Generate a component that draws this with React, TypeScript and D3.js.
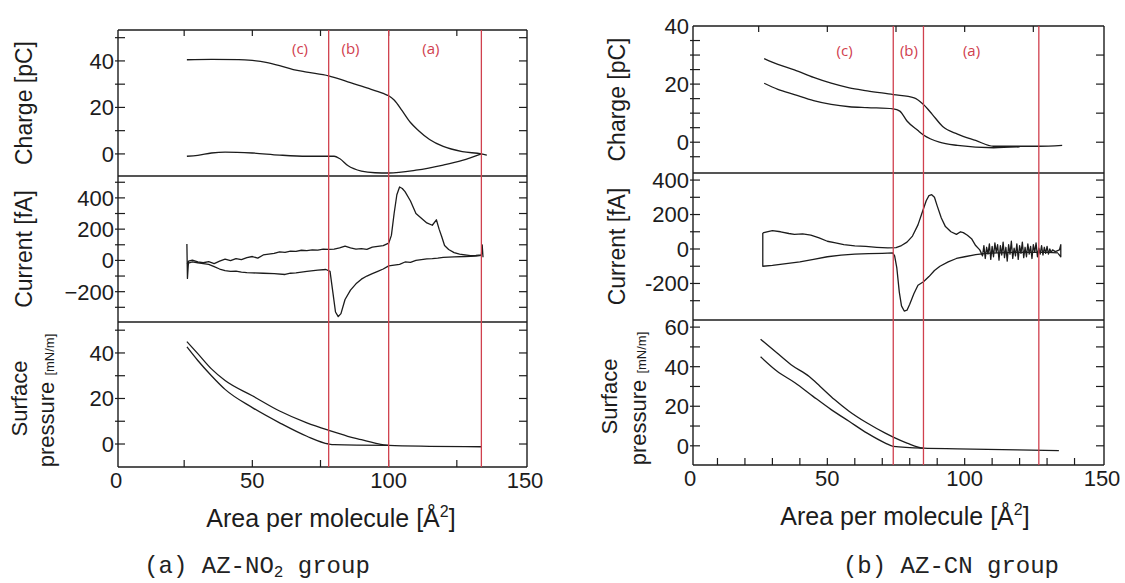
import React from "react";
import * as d3 from "d3";

type Pt = [number, number];

// shared labels
const xTickLabels = [0, 50, 100, 150];
const regionNames = ["(c)", "(b)", "(a)"];
const rowTitles = ["Charge [pC]", "Current [fA]"];

// ---------- (a) AZ-NO2 group ----------
const no2Boundaries = [78, 100, 134];
const no2NamePos = [67.5, 86, 115.5];
const no2ChargeTicks = [0, 20, 40];
const no2CurrentTicks = [-200, 0, 200, 400];
const no2PressureTicks = [0, 20, 40];

const no2ChargeUpper: Pt[] = [
  [26, 40.5], [35, 40.7], [45, 40.6], [50, 40.2], [55, 39.4], [60, 38], [65, 36.3],
  [70, 35.2], [78, 33.6], [85, 31], [92, 28.4], [98, 26], [100, 25], [102, 23.2],
  [105, 18.5], [108, 13.5], [111, 10], [115, 6.2], [120, 3.2], [127, 1], [134, 0], [136, -0.5],
];
const no2ChargeLower: Pt[] = [
  [26, -1], [30, -0.6], [35, 0.4], [40, 0.8], [50, 0.4], [60, -0.5], [70, -1], [80, -1],
  [82, -2], [85, -5], [90, -7.4], [95, -8.1], [100, -8.2], [110, -7], [120, -4.8],
  [127, -2.8], [134, 0],
];
const no2CurrentUpper: Pt[] = [
  [26, 105], [26.2, -115], [26.6, -5], [28, 2], [30, -10], [32, -15], [34, -8], [36, -20],
  [38, -5], [40, 8], [42, -2], [44, 12], [46, 5], [48, 18], [50, 25], [52, 15], [54, 35],
  [56, 40], [58, 45], [60, 55], [62, 52], [64, 60], [66, 58], [68, 65], [70, 62], [72, 68],
  [74, 66], [76, 72], [78, 70], [80, 72], [82, 80], [84, 92], [86, 80], [88, 72], [90, 75],
  [92, 70], [94, 85], [96, 90], [98, 95], [100, 110], [101, 160], [102, 300], [103, 420],
  [104, 470], [105, 460], [106, 440], [108, 380], [110, 300], [112, 270], [114, 240],
  [116, 225], [117.5, 260], [118.5, 200], [119.5, 150], [120.5, 95], [122, 70], [124, 50],
  [126, 40], [128, 35], [130, 30], [132, 32], [134, 35], [134.3, 100], [134.6, 20],
];
const no2CurrentLower: Pt[] = [
  [26, -20], [28, -10], [30, -15], [32, -20], [34, -25], [36, -40], [38, -55], [40, -65],
  [42, -70], [44, -68], [46, -75], [48, -78], [50, -80], [54, -82], [58, -85], [62, -90],
  [64, -82], [66, -80], [70, -70], [74, -62], [77, -58], [78.5, -70], [79.5, -200],
  [80.5, -330], [81.5, -360], [82.5, -340], [84, -250], [86, -190], [88, -150], [90, -120],
  [92, -100], [94, -85], [96, -70], [98, -55], [100, -35], [102, -30], [104, -25],
  [106, -10], [108, -12], [110, 0], [112, 5], [114, 10], [116, 12], [118, 15], [120, 20],
  [124, 22], [128, 25], [132, 28], [134, 32],
];
const no2PressureUpper: Pt[] = [
  [26, 45], [30, 39.7], [35, 33], [40, 27.9], [50, 21.2], [60, 14.5], [70, 9.3], [78, 6],
  [85, 3.4], [90, 1.9], [95, 0.4], [100, -0.6], [115, -1], [134, -1.2],
];
const no2PressureLower: Pt[] = [
  [26, 42.7], [30, 36.7], [35, 30], [40, 24], [50, 16], [60, 9.3], [70, 3.4], [78, 0],
  [80, -0.3], [100, -0.6],
];

// ---------- (b) AZ-CN group ----------
const cnBoundaries = [74, 85, 127];
const cnNamePos = [56.3, 79.7, 102.5];
const cnChargeTicks = [0, 20, 40];
const cnCurrentTicks = [-200, 0, 200, 400];
const cnPressureTicks = [0, 20, 40, 60];

const cnChargeUpper: Pt[] = [
  [27, 28.8], [32, 26.8], [38, 24.9], [45, 22.3], [51.4, 20.3], [58, 18.7], [64.5, 17.7],
  [74, 16.4], [81.6, 15.3], [85, 13], [88.2, 9.6], [92.1, 5.3], [97.4, 2.8], [104, 0.6],
  [110.5, -1.4], [127, -1.4], [135.5, -1.1],
];
const cnChargeLower: Pt[] = [
  [27, 20.3], [32, 18.2], [38, 16.4], [45, 14.3], [51.4, 13], [58, 12.2], [64.5, 11.9],
  [74, 11.5], [76.4, 10.7], [79, 7.3], [83, 4], [85, 2.5], [90.8, 0], [97.4, -1.1],
  [110.5, -1.9], [120, -1.6],
];
const cnCurrentUpper: Pt[] = [
  [26.5, 93], [28, 100], [30, 107], [33, 100], [36, 90], [38, 85], [41, 88], [44, 80],
  [47, 65], [50, 45], [53, 35], [56, 25], [60, 18], [64, 15], [68, 10], [72, 6], [75, 8],
  [77, 20], [79, 40], [81, 75], [83, 140], [84.5, 210], [86, 280], [87, 310], [88, 315],
  [89, 300], [90, 250], [91.5, 180], [93, 130], [95, 100], [97, 85], [98.5, 100],
  [99.5, 95], [101, 80], [102.5, 60], [104, 20], [105.5, -5], [106.5, -40], [107, 20],
  [107.5, -55], [108, 10], [108.5, -30], [109, 30], [109.5, -60], [110, 15], [110.5, -45],
  [111, 35], [111.5, -20], [112, 25], [112.5, -65], [113, 20], [113.5, -35], [114, 40],
  [114.5, -50], [115, 10], [115.5, -70], [116, 25], [116.5, -30], [117, 45], [117.5, -55],
  [118, 5], [118.5, -40], [119, 30], [119.5, -60], [120, 20], [120.5, -25], [121, 40],
  [121.5, -50], [122, 10], [122.5, -45], [123, 30], [123.5, -30], [124, 15], [124.5, -55],
  [125, 25], [125.5, -20], [126, 35], [126.5, -45], [127, 5], [127.5, -30], [128, 20],
  [128.5, -35], [129, 10], [129.5, -25], [130, 15], [130.5, -30], [131, 0], [131.5, -20],
  [132, -5], [133, -15], [134.5, -5], [135, 25], [135, -45], [134, -25],
];
const cnCurrentLower: Pt[] = [
  [26.5, 93], [26.5, -100], [30, -95], [35, -85], [40, -75], [45, -60], [50, -45],
  [55, -35], [60, -30], [65, -27], [70, -25], [73.8, -23], [74.5, -40], [75.3, -110],
  [76.2, -250], [77, -330], [78, -360], [79, -355], [80, -320], [81.5, -260], [83, -210],
  [85, -190], [87, -160], [89, -125], [91, -100], [94, -75], [97, -55], [100, -45],
  [104, -33], [108, -25], [112, -22], [118, -20], [125, -20], [130, -20], [134, -22],
];
const cnPressureUpper: Pt[] = [
  [25.7, 53.9], [31.6, 47], [36.8, 41], [43.4, 35], [47.4, 30], [52.6, 23.4], [57.9, 17.5],
  [64.5, 11.5], [71.1, 6.4], [74, 4.4], [79, 1.4], [85, -1.2], [97.4, -1.5], [134.3, -2.4],
];
const cnPressureLower: Pt[] = [
  [25.7, 45], [31.6, 37.8], [38.2, 31.9], [44.8, 25], [51.4, 18.3], [57.9, 12.4],
  [64.5, 6.4], [71.1, 1.4], [74, -0.3], [85, -1.2],
];

// ---------- layout ----------
type Row = {
  domain: [number, number];
  ticks: number[];
  minor: number;
  rightMinor: number;
  lines: Pt[][];
  smooth: boolean;
};

type PanelCfg = {
  x0: number; x1: number; l: number; r: number; edges: number[];
  xTopStep: number; xBottomStep: number; xLabelY: number;
  titleX: number; surfaceX: number; pressureX: number;
  rows: Row[];
  boundaries: number[]; namePos: number[]; nameY: number;
  minusSign: string;
  xTitleX: number; xTitleY: number; caption: React.ReactNode; captionX: number;
};

const INK = "#1c1c1c";
const RED = "#d0404e";
const SANS = "'Liberation Sans', Arial, Helvetica, sans-serif";
const TICK_FONT = 22;

const fmt = (v: number, minus: string) => (v < 0 ? minus + Math.abs(v) : String(v));

function Panel({ c }: { c: PanelCfg }) {
  const x = d3.scaleLinear().domain([0, 150]).range([c.x0, c.x1]);
  const top = c.edges[0];
  const bottom = c.edges[3];

  const rowEls = c.rows.map((row, i) => {
    const y0 = c.edges[i];
    const y1 = c.edges[i + 1];
    const y = d3.scaleLinear().domain(row.domain).range([y1, y0]);
    const line = d3
      .line<Pt>()
      .x((d) => x(d[0]))
      .y((d) => y(d[1]))
      .curve(row.smooth ? d3.curveMonotoneX : d3.curveLinear);
    const inside = (v: number) => y(v) > y0 + 3 && y(v) < y1 - 3;
    const leftTicks = d3
      .range(Math.ceil(row.domain[0] / row.minor) * row.minor, row.domain[1], row.minor)
      .filter(inside);
    const rightTicks = d3
      .range(Math.ceil(row.domain[0] / row.rightMinor) * row.rightMinor, row.domain[1], row.rightMinor)
      .filter(inside);
    return (
      <g key={i}>
        {leftTicks.map((t) => (
          <line key={"l" + t} x1={c.l - 3} x2={c.l + 7} y1={y(t)} y2={y(t)} stroke={INK} strokeWidth={1.2} />
        ))}
        {rightTicks.map((t) => (
          <line key={"r" + t} x1={c.r - 8} x2={c.r} y1={y(t)} y2={y(t)} stroke={INK} strokeWidth={1.2} />
        ))}
        {row.ticks.map((t) => (
          <text key={"t" + t} x={c.l - 4} y={y(t)} dy="0.36em" textAnchor="end"
            fontSize={TICK_FONT} fontFamily={SANS} fill={INK}>
            {fmt(t, c.minusSign)}
          </text>
        ))}
        {row.lines.map((pts, k) => (
          <path key={"p" + k} d={line(pts) || ""} fill="none" stroke={INK} strokeWidth={1.3} strokeLinejoin="round" />
        ))}
      </g>
    );
  });

  const topTicks = d3.range(c.xTopStep, 150, c.xTopStep);
  const bottomTicks = d3.range(c.xBottomStep, 150, c.xBottomStep);

  return (
    <g>
      {/* frame + row dividers */}
      {c.edges.map((e, i) => (
        <line key={"e" + i} x1={c.l} x2={c.r} y1={e} y2={e} stroke={INK} strokeWidth={1.4} />
      ))}
      <line x1={c.l} x2={c.l} y1={top} y2={bottom} stroke={INK} strokeWidth={1.4} />
      <line x1={c.r} x2={c.r} y1={top} y2={bottom} stroke={INK} strokeWidth={1.4} />
      {topTicks.map((t) => (
        <line key={"tt" + t} x1={x(t)} x2={x(t)} y1={top} y2={top + 6} stroke={INK} strokeWidth={1.2} />
      ))}
      {bottomTicks.map((t) => (
        <line key={"bt" + t} x1={x(t)} x2={x(t)} y1={bottom} y2={bottom - 7} stroke={INK} strokeWidth={1.2} />
      ))}
      {xTickLabels.map((t) => (
        <text key={"xl" + t} x={x(t)} y={c.xLabelY} textAnchor="middle" fontSize={TICK_FONT} fontFamily={SANS} fill={INK}>
          {t}
        </text>
      ))}
      {rowEls}
      {/* region boundaries */}
      {c.boundaries.map((b) => (
        <line key={"b" + b} x1={x(b)} x2={x(b)} y1={top} y2={bottom} stroke={RED} strokeWidth={1.3} />
      ))}
      {regionNames.map((n, i) => (
        <text key={n} x={x(c.namePos[i])} y={c.nameY} textAnchor="middle" fontSize={15}
          fontFamily="'Open Sans', sans-serif" fill={RED}>
          {n}
        </text>
      ))}
      {/* axis titles */}
      {rowTitles.map((t, i) => (
        <text key={t} transform={`translate(${c.titleX},${(c.edges[i] + c.edges[i + 1]) / 2}) rotate(-90)`}
          textAnchor="middle" fontSize={23} fontFamily={SANS} fill={INK}>
          {t}
        </text>
      ))}
      <text transform={`translate(${c.surfaceX},${(c.edges[2] + c.edges[3]) / 2 + 4}) rotate(-90)`}
        textAnchor="middle" fontSize={22} fontFamily={SANS} fill={INK}>
        Surface
      </text>
      <text transform={`translate(${c.pressureX},${(c.edges[2] + c.edges[3]) / 2 + 6}) rotate(-90)`}
        textAnchor="middle" fontSize={22} fontFamily={SANS} fill={INK}>
        pressure <tspan fontSize={13}>[mN/m]</tspan>
      </text>
      <text x={c.xTitleX} y={c.xTitleY} textAnchor="middle" fontSize={25} fontFamily={SANS} fill={INK}>
        Area per molecule [Å<tspan dy={-10} fontSize={16}>2</tspan><tspan dy={10}>]</tspan>
      </text>
      <text x={c.captionX} y={573} textAnchor="middle" fontSize={24}
        fontFamily="'Liberation Mono', 'DejaVu Sans Mono', monospace" fill="#222">
        {c.caption}
      </text>
    </g>
  );
}

const no2Panel: PanelCfg = {
  x0: 116, x1: 525, l: 118, r: 527, edges: [30, 176, 322, 467],
  xTopStep: 25, xBottomStep: 25, xLabelY: 488,
  titleX: 32, surfaceX: 27, pressureX: 54,
  rows: [
    { domain: [-9.5, 53.3], ticks: no2ChargeTicks, minor: 10, rightMinor: 10, lines: [no2ChargeUpper, no2ChargeLower], smooth: true },
    { domain: [-394, 540], ticks: no2CurrentTicks, minor: 100, rightMinor: 100, lines: [no2CurrentUpper, no2CurrentLower], smooth: false },
    { domain: [-10.1, 53.6], ticks: no2PressureTicks, minor: 10, rightMinor: 10, lines: [no2PressureUpper, no2PressureLower], smooth: true },
  ],
  boundaries: no2Boundaries, namePos: no2NamePos, nameY: 54,
  minusSign: "\u2212",
  xTitleX: 331, xTitleY: 527,
  caption: <>(a) AZ-NO<tspan fontSize={16} dy={4}>2</tspan><tspan dy={-4}> group</tspan></>,
  captionX: 257,
};

const cnPanel: PanelCfg = {
  x0: 690, x1: 1102, l: 693, r: 1104, edges: [26, 173, 320, 465],
  xTopStep: 25, xBottomStep: 10, xLabelY: 486,
  titleX: 625, surfaceX: 617, pressureX: 646,
  rows: [
    { domain: [-10.6, 40], ticks: cnChargeTicks, minor: 5, rightMinor: 10, lines: [cnChargeUpper, cnChargeLower], smooth: true },
    { domain: [-412, 441], ticks: cnCurrentTicks, minor: 100, rightMinor: 100, lines: [cnCurrentUpper, cnCurrentLower], smooth: false },
    { domain: [-9.7, 63.6], ticks: cnPressureTicks, minor: 10, rightMinor: 10, lines: [cnPressureUpper, cnPressureLower], smooth: true },
  ],
  boundaries: cnBoundaries, namePos: cnNamePos, nameY: 56,
  minusSign: "-",
  xTitleX: 905, xTitleY: 525,
  caption: <>(b) AZ-CN group</>,
  captionX: 951,
};

export default function App() {
  return (
    <svg width={1125} height={583} style={{ position: "absolute", left: 0, top: 0, background: "#fff" }}>
      <rect width={1125} height={583} fill="#fff" />
      <Panel c={no2Panel} />
      <Panel c={cnPanel} />
    </svg>
  );
}
